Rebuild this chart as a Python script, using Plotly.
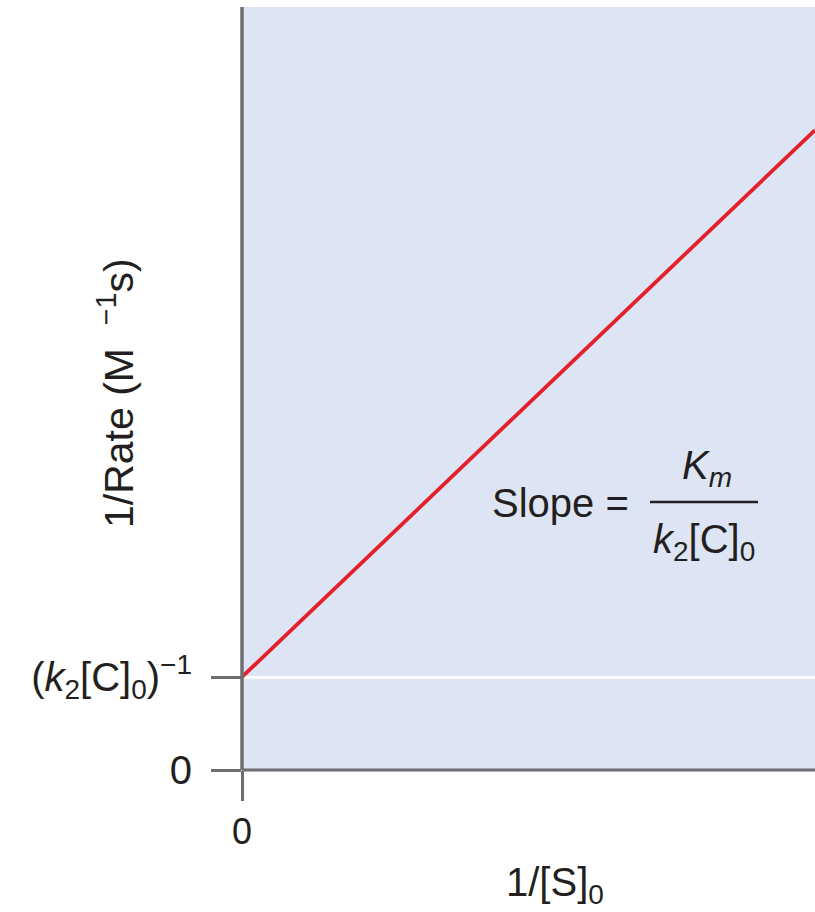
import plotly.graph_objects as go

# Lineweaver-Burk style plot: 1/rate against 1/[S]0
inv_substrate = [0, 1]
inv_rate = [1, 6.88]

y_tick_vals = [0, 1]
y_tick_text = ["0", "(<i>k</i><sub>2</sub>[C]<sub>0</sub>)<sup>−1</sup>"]
x_tick_vals = [0]
x_tick_text = ["0"]

FONT = "Liberation Sans, Arial, sans-serif"
TEXT = "#231f20"
AXIS = "#6d6e71"
FS = 40

fig = go.Figure()
fig.add_trace(go.Scatter(
    x=inv_substrate, y=inv_rate, mode="lines",
    line=dict(color="#e3202b", width=3.8),
    showlegend=False, hoverinfo="skip",
))

fig.update_layout(
    width=815, height=912,
    margin=dict(l=242, r=0, t=7, b=142),
    paper_bgcolor="white",
    plot_bgcolor="#dde5f4",
    font=dict(family=FONT, size=FS, color=TEXT),
    xaxis=dict(
        range=[0, 1], tickvals=x_tick_vals, ticktext=x_tick_text,
        ticks="outside", ticklen=30, tickwidth=3, tickcolor=AXIS,
        showline=False, showgrid=False, zeroline=False,
        ticklabelstandoff=0, tickfont=dict(size=36, color=TEXT),
    ),
    yaxis=dict(
        range=[0, 8.204], tickvals=y_tick_vals, ticktext=y_tick_text,
        ticks="outside", ticklen=30, tickwidth=3, tickcolor=AXIS,
        showline=False, showgrid=True, gridcolor="white", gridwidth=2.5,
        zeroline=False, ticklabelstandoff=11, tickfont=dict(size=FS, color=TEXT),
    ),
)

# axis lines drawn on top of the grid
fig.add_shape(type="line", xref="paper", yref="paper", x0=0, x1=1, y0=0, y1=0,
              line=dict(color=AXIS, width=3), layer="above")
fig.add_shape(type="line", xref="paper", yref="paper", x0=0, x1=0, y0=0, y1=1,
              line=dict(color=AXIS, width=3.5), layer="above")


def px(x):
    return (x - 242) / 573


def py(y):
    return (770 - y) / 763


def label(x, y, text, size=FS, **kw):
    fig.add_annotation(xref="paper", yref="paper", x=px(x), y=py(y), text=text,
                       xanchor="center", yanchor="middle", showarrow=False,
                       font=dict(size=size, color=TEXT), **kw)


# axis titles
label(116, 393, "1/Rate (M  <sup>−1</sup>s)", size=41, textangle=-90)
label(555, 885, "1/[S]<sub>0</sub>")

# slope label written as a fraction
label(560, 503, "Slope =")
label(707, 468, "<i>K<sub>m</sub></i>")
label(704, 542, "<i>k</i><sub>2</sub>[C]<sub>0</sub>")
fig.add_shape(type="line", xref="paper", yref="paper",
              x0=px(650), x1=px(758), y0=py(502), y1=py(502),
              line=dict(color=TEXT, width=2.5))

fig.write_html("out.html")
